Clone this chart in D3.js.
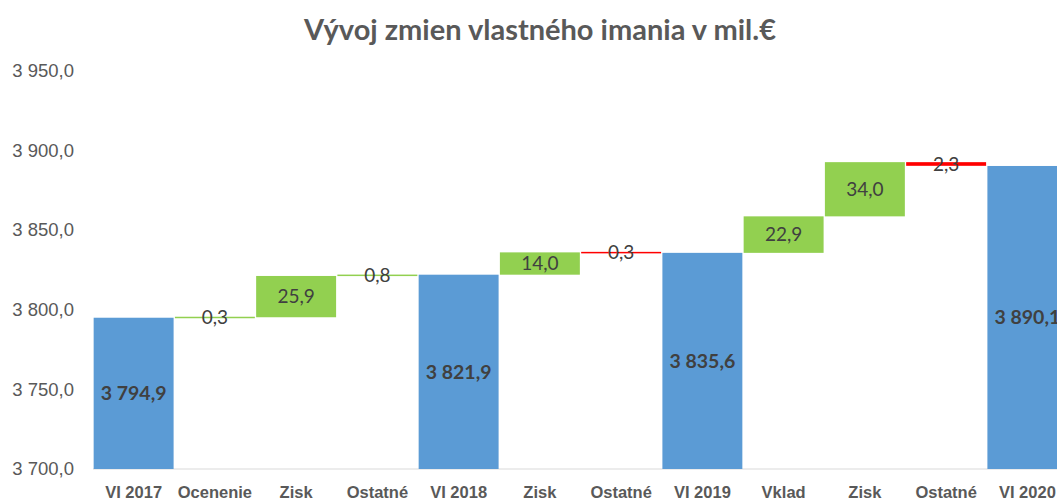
<!DOCTYPE html>
<meta charset="utf-8">
<style>
  body { margin: 0; background: #fff; }
  svg { font-family: Lato, "Open Sans", sans-serif; }
</style>
<body>
<svg width="1057" height="501"></svg>
<script src="https://d3js.org/d3.v7.min.js"></script>
<script>

// chart data
var categories = ["VI 2017", "Ocenenie", "Zisk", "Ostatné", "VI 2018", "Zisk", "Ostatné",
                  "VI 2019", "Vklad", "Zisk", "Ostatné", "VI 2020"]
var values = [3794.9, 0.3, 25.9, 0.8, 3821.9, 14.0, -0.3, 3835.6, 22.9, 34.0, -2.3, 3890.1]
var isTotal = [true, false, false, false, true, false, false, true, false, false, false, true]
var yTicks = [3700, 3750, 3800, 3850, 3900, 3950]
var title = "Vývoj zmien vlastného imania v mil.€"

var sk = d3.formatLocale({ decimal: ",", thousands: "\u00a0", grouping: [3], currency: ["", "€"] })
var fmt = sk.format(",.1f")

// build waterfall steps
var running = 0
var steps = categories.map(function (c, i) {
  var s
  if (isTotal[i]) {
    s = { key: i, cat: c, start: yTicks[0], end: values[i], type: "total" }
    running = values[i]
  } else {
    s = { key: i, cat: c, start: running, end: running + values[i], type: values[i] >= 0 ? "up" : "down" }
    running += values[i]
  }
  s.value = values[i]
  return s
})

var colors = { total: "#5B9BD5", up: "#92D050", down: "#FF0000" }

var svg = d3.select("svg")

var x = d3.scaleBand()
  .domain(steps.map(function (d) { return d.key }))
  .range([93, 1068])
  .paddingInner(0.016)
  .paddingOuter(0.008)

var y = d3.scaleLinear().domain([3700, 3950]).range([469, 70.5])

// title
svg.append("text")
  .attr("x", 540).attr("y", 40)
  .attr("text-anchor", "middle")
  .attr("font-size", 29).attr("font-weight", "bold")
  .attr("fill", "#595959")
  .text(title)

// y axis labels (no line)
var yAxis = d3.axisLeft(y).tickValues(yTicks).tickFormat(fmt).tickSize(0).tickPadding(0)
var gy = svg.append("g").attr("transform", "translate(74,0)").call(yAxis)
gy.select(".domain").remove()
gy.selectAll("text").attr("font-size", 18.5).attr("fill", "#595959").attr("font-family", null)

// baseline
svg.append("line")
  .attr("x1", 93).attr("x2", 1057)
  .attr("y1", y(3700)).attr("y2", y(3700))
  .attr("stroke", "#D9D9D9").attr("stroke-width", 1)

// bars
svg.append("g").selectAll("rect")
  .data(steps)
  .enter().append("rect")
  .attr("x", function (d) { return x(d.key) })
  .attr("width", x.bandwidth())
  .attr("y", function (d) {
    var top = y(Math.max(d.start, d.end))
    var h = Math.abs(y(d.start) - y(d.end))
    return h < 1.5 ? top - (1.5 - h) / 2 : top
  })
  .attr("height", function (d) { return Math.max(1.5, Math.abs(y(d.start) - y(d.end))) })
  .attr("fill", function (d) { return colors[d.type] })

// value labels
svg.append("g").selectAll("text")
  .data(steps)
  .enter().append("text")
  .attr("x", function (d) { return x(d.key) + x.bandwidth() / 2 })
  .attr("y", function (d) { return (y(d.start) + y(d.end)) / 2 })
  .attr("dy", "0.35em")
  .attr("text-anchor", "middle")
  .attr("font-size", function (d) { return d.type === "total" ? 19.5 : 19 })
  .attr("font-weight", function (d) { return d.type === "total" ? "bold" : "normal" })
  .attr("fill", "#404040")
  .text(function (d) { return fmt(Math.abs(d.value)) })

// category labels
var xAxis = d3.axisBottom(x).tickFormat(function (k) { return categories[k] }).tickSize(0).tickPadding(0)
var gx = svg.append("g").attr("transform", "translate(0,486)").call(xAxis)
gx.select(".domain").remove()
gx.selectAll("text")
  .attr("font-size", 16.5).attr("font-weight", "bold")
  .attr("fill", "#595959").attr("font-family", null)

</script>
